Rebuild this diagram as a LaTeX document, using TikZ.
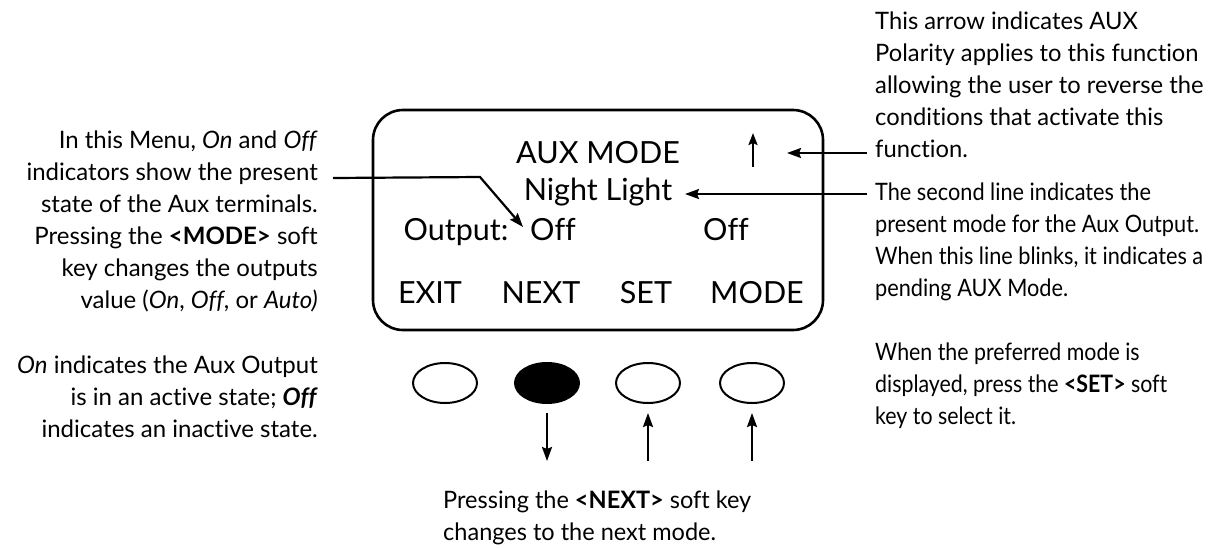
\documentclass[tikz,border=0pt]{standalone}
\usepackage{graphicx}
\usepackage{fontspec}
\setmainfont{Lato}[Ligatures=NoCommon]
\usetikzlibrary{arrows.meta,shapes.geometric}
\tikzset{
  x=1pt,y=-1pt,
  arr/.style={line width=2.2pt,-{Stealth[length=14pt,width=10pt,inset=2pt]}},
  note/.style={inner sep=0pt,font=\fontsize{24}{32}\selectfont},
  lcd/.style={inner sep=0pt,font=\fontsize{30.5}{32}\selectfont},
  key/.style={draw,line width=2pt,ellipse,minimum width=64pt,minimum height=40pt,inner sep=0pt},
}
\begin{document}
\begin{tikzpicture}
\useasboundingbox (0,0) rectangle (1216,547);
% display
\node[draw,line width=2.6pt,rounded corners=30pt,minimum width=450pt,minimum height=220pt,inner sep=0pt] (disp) at (598,220) {};
\node[lcd,anchor=base] (auxmode) at (598,163) {AUX MODE};
\node[lcd,anchor=base] (night) at (598,200) {Night Light};
\node[lcd,anchor=base] (output) at (456,240) {Output:};
\node[lcd,anchor=base] (off1) at (553,240) {Off};
\node[lcd,anchor=base] (off2) at (726,240) {Off};
\node[lcd,anchor=base] (exit) at (430,303) {EXIT};
\node[lcd,anchor=base] (next) at (541,303) {NEXT};
\node[lcd,anchor=base] (set) at (646,303) {SET};
\node[lcd,anchor=base] (mode) at (757,303) {MODE};
% polarity arrow in display
\coordinate (pa1) at (753,167);
\coordinate (pa2) at (753,133);
\draw[line width=2.2pt,-{Stealth[length=12pt,width=9pt,inset=2pt]}] (pa1) -- (pa2);
% keys
\node[key] (k1) at (445,383) {};
\node[key,fill=black] (k2) at (547,383) {};
\node[key] (k3) at (648,383) {};
\node[key] (k4) at (752,383) {};
\coordinate (d2a) at (547,413); \coordinate (d2b) at (547,461);
\coordinate (d3a) at (648,461); \coordinate (d3b) at (648,413);
\coordinate (d4a) at (752,461); \coordinate (d4b) at (752,413);
\draw[arr] (d2a) -- (d2b);
\draw[arr] (d3a) -- (d3b);
\draw[arr] (d4a) -- (d4b);
% left notes
\node[note,anchor=base east] (lnote) at (318,148.3) {\begin{tabular}[t]{@{}r@{}}In this Menu, \textit{On} and \textit{Off}\\
indicators show the present\\
state of the Aux terminals.\\
Pressing the \textbf{<MODE>} soft\\
key changes the outputs\\
value (\textit{On}, \textit{Off}, or \textit{Auto)}\end{tabular}};
\node[note,anchor=base east] (lnote2) at (318,373.5) {\begin{tabular}[t]{@{}r@{}}\textit{On} indicates the Aux Output\\
is in an active state; \textbf{\textit{Off}}\\
indicates an inactive state.\end{tabular}};
\coordinate (lc1) at (333,178);
\coordinate (lc2) at (480,177);
\coordinate (lc3) at (523,227);
\draw[arr] (lc1) -- (lc2) -- (lc3);
% right notes
\node[note,anchor=base west] (rnote1) at (875,29) {\scalebox{0.99}[1]{\begin{tabular}[t]{@{}l@{}}This arrow indicates AUX\\
Polarity applies to this function\\
allowing the user to reverse the\\
conditions that activate this\\
function.\end{tabular}}};
\node[note,anchor=base west] (rnote2) at (875,200) {\scalebox{0.905}[1]{\begin{tabular}[t]{@{}l@{}}The second line indicates the\\
present mode for the Aux Output.\\
When this line blinks, it indicates a\\
pending AUX Mode.\end{tabular}}};
\node[note,anchor=base west] (rnote3) at (875,360) {\scalebox{0.89}[1]{\begin{tabular}[t]{@{}l@{}}When the preferred mode is\\
displayed, press the \textbf{<SET>} soft\\
key to select it.\end{tabular}}};
\coordinate (ra1) at (867,153); \coordinate (ra2) at (787,153);
\coordinate (rb1) at (867,194); \coordinate (rb2) at (685,194);
\draw[arr] (ra1) -- (ra2);
\draw[arr] (rb1) -- (rb2);
% bottom note
\node[note,anchor=base west] (bnote) at (443,508) {\scalebox{0.98}[1]{\begin{tabular}[t]{@{}l@{}}Pressing the \textbf{<NEXT>} soft key\\
changes to the next mode.\end{tabular}}};
\end{tikzpicture}
\end{document}
